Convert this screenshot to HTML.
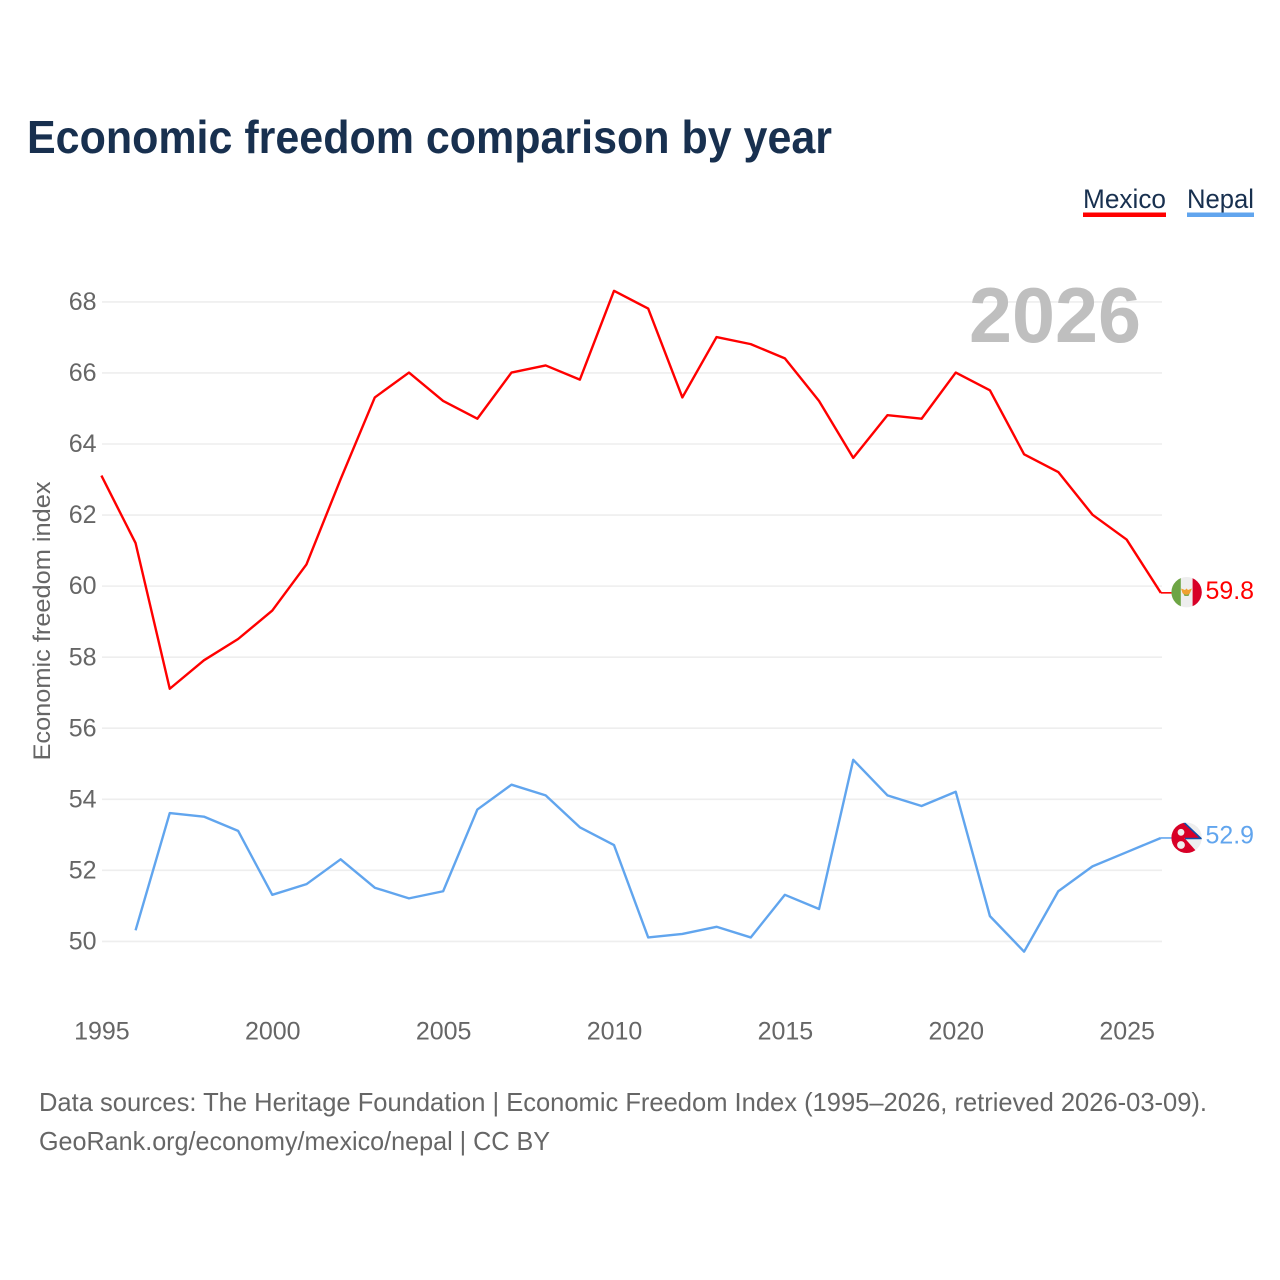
<!DOCTYPE html>
<html>
<head>
<meta charset="utf-8">
<style>
html,body{margin:0;padding:0;background:#fff;}
svg{display:block;}
text{font-family:"Liberation Sans",sans-serif;}
</style>
</head>
<body>
<svg id="chart" width="1280" height="1280" viewBox="0 0 1280 1280" xmlns="http://www.w3.org/2000/svg">
  <defs>
    <clipPath id="clip-mx"><circle cx="1186.6" cy="592.2" r="15.2"/></clipPath>
    <clipPath id="clip-np"><circle cx="1186.6" cy="837.8" r="15.2"/></clipPath>
  </defs>
  <rect x="0" y="0" width="1280" height="1280" fill="#fff"/>
  <text x="27" y="153" font-size="46" font-weight="700" fill="#18304f" textLength="805" lengthAdjust="spacingAndGlyphs">Economic freedom comparison by year</text>

  <g>
    <text x="1083" y="208" font-size="27" fill="#18304f" textLength="83" lengthAdjust="spacingAndGlyphs">Mexico</text>
    <rect x="1083" y="212.5" width="83" height="4.5" fill="#ff0000"/>
  </g>
  <g>
    <text x="1187" y="208" font-size="27" fill="#18304f" textLength="67" lengthAdjust="spacingAndGlyphs">Nepal</text>
    <rect x="1187" y="212.5" width="67" height="4.5" fill="#61a5ee"/>
  </g>

  <g id="grid"></g>
  <text x="1141" y="342" text-anchor="end" font-size="78" font-weight="700" fill="#bfbfbf" textLength="172" lengthAdjust="spacingAndGlyphs">2026</text>
  <g id="yticks"></g>
  <g id="xticks"></g>
  <text transform="translate(50,621) rotate(-90)" text-anchor="middle" font-size="24" fill="#666666" textLength="279" lengthAdjust="spacingAndGlyphs">Economic freedom index</text>

  <g id="series"></g>

  <g clip-path="url(#clip-mx)">
    <rect x="1171" y="576" width="32" height="33" fill="#eeeeee"/>
    <rect x="1171" y="576" width="9.8" height="33" fill="#6da544"/>
    <rect x="1192.6" y="576" width="10" height="33" fill="#d80027"/>
    <path d="M1181 588.5 L1185 590 L1186.5 588.5 L1188 590 L1192 588.5 L1190 593 L1188.5 595 L1184.5 595 L1182.5 593 Z" fill="#f0a030"/>
    <path d="M1183.5 593.5 q3 2.5 6 0 l-1 2.5 h-4 z" fill="#7fa848"/>
  </g>
  <g clip-path="url(#clip-np)">
    <rect x="1171" y="822" width="32" height="32" fill="#eeeeee"/>
    <path d="M1170 820 L1183 822 L1200.5 838 L1184.5 838 L1197 852 L1197 856 L1170 856 Z" fill="#d80027"/>
    <path d="M1183 821.5 L1201 838.5 L1185 838.5" fill="none" stroke="#0f4fa8" stroke-width="1.6"/>
    <circle cx="1181" cy="832.3" r="3.4" fill="#eeeeee"/>
    <circle cx="1181" cy="845" r="3.9" fill="#eeeeee"/>
  </g>

  <g id="endlabels"></g>

  <text x="39" y="1111" font-size="26" fill="#666666" textLength="1168" lengthAdjust="spacingAndGlyphs">Data sources: The Heritage Foundation | Economic Freedom Index (1995–2026, retrieved 2026-03-09).</text>
  <text x="39" y="1150" font-size="26" fill="#666666" textLength="511" lengthAdjust="spacingAndGlyphs">GeoRank.org/economy/mexico/nepal | CC BY</text>
</svg>
<script>
const years = [1995,1996,1997,1998,1999,2000,2001,2002,2003,2004,2005,2006,2007,2008,2009,2010,2011,2012,2013,2014,2015,2016,2017,2018,2019,2020,2021,2022,2023,2024,2025,2026];
const mexico = [63.1,61.2,57.1,57.9,58.5,59.3,60.6,63.0,65.3,66.0,65.2,64.7,66.0,66.2,65.8,68.3,67.8,65.3,67.0,66.8,66.4,65.2,63.6,64.8,64.7,66.0,65.5,63.7,63.2,62.0,61.3,59.8];
const nepal = [null,50.3,53.6,53.5,53.1,51.3,51.6,52.3,51.5,51.2,51.4,53.7,54.4,54.1,53.2,52.7,50.1,50.2,50.4,50.1,51.3,50.9,55.1,54.1,53.8,54.2,50.7,49.7,51.4,52.1,52.5,52.9];
const yTickLabels = [50,52,54,56,58,60,62,64,66,68];
const xTickLabels = [1995,2000,2005,2010,2015,2020,2025];

const NS = 'http://www.w3.org/2000/svg';
function xScale(year) { return 101.4 + (year - 1995) * (1160.8 - 101.4) / 31; }
function yScale(value) { return 941 - (value - 50) * (941 - 301.5) / 18; }
function make(tag, parent, attrs) {
  const el = document.createElementNS(NS, tag);
  for (const k in attrs) el.setAttribute(k, attrs[k]);
  parent.appendChild(el);
  return el;
}
const grid = document.getElementById('grid');
const yticks = document.getElementById('yticks');
const xticks = document.getElementById('xticks');
const series = document.getElementById('series');
const endlabels = document.getElementById('endlabels');

yTickLabels.forEach(function (v) {
  const line = make('line', grid, {x1: 102, x2: 1162, y1: yScale(v) + 0.4, y2: yScale(v) + 0.4, stroke: '#eeeeee', 'stroke-width': 1.6});
  
  
  const t = make('text', yticks, {x: 96.5, y: yScale(v) + 8.5, 'text-anchor': 'end', 'font-size': 25, fill: '#666666'});
  t.textContent = String(v);
  
  
});
xTickLabels.forEach(function (v) {
  const t = make('text', xticks, {x: xScale(v) + 0.5, y: 1039.5, 'text-anchor': 'middle', 'font-size': 25, fill: '#666666'});
  t.textContent = String(v);
  
  
});
function pathFor(values) {
  let d = '';
  values.forEach(function (v, i) {
    if (v === null) return;
    d += (d ? 'L' : 'M') + xScale(years[i]).toFixed(2) + ' ' + yScale(v).toFixed(2);
  });
  return d;
}
function connector(values) {
  const y = yScale(values[values.length - 1]);
  const x = xScale(years[years.length - 1]);
  return 'M' + x.toFixed(2) + ' ' + y.toFixed(2) + 'L' + (x + 11).toFixed(2) + ' ' + y.toFixed(2);
}
const mexicoLine = make('path', series, {d: pathFor(mexico), fill: 'none', stroke: '#ff0000', 'stroke-width': 2.4, 'stroke-linejoin': 'round'});


const nepalLine = make('path', series, {d: pathFor(nepal), fill: 'none', stroke: '#61a5ee', 'stroke-width': 2.4, 'stroke-linejoin': 'round'});


const mexicoConnector = make('path', series, {d: connector(mexico), fill: 'none', stroke: '#ff0000', 'stroke-width': 1.6});


const nepalConnector = make('path', series, {d: connector(nepal), fill: 'none', stroke: '#61a5ee', 'stroke-width': 1.6});



const mexicoEnd = make('text', endlabels, {x: 1205.5, y: 599, 'font-size': 25, fill: '#ff0000', textLength: 48.5, lengthAdjust: 'spacingAndGlyphs'});
mexicoEnd.textContent = mexico[mexico.length - 1].toFixed(1);


const nepalEnd = make('text', endlabels, {x: 1205.5, y: 843.5, 'font-size': 25, fill: '#61a5ee', textLength: 48.5, lengthAdjust: 'spacingAndGlyphs'});
nepalEnd.textContent = nepal[nepal.length - 1].toFixed(1);


</script>
</body>
</html>
